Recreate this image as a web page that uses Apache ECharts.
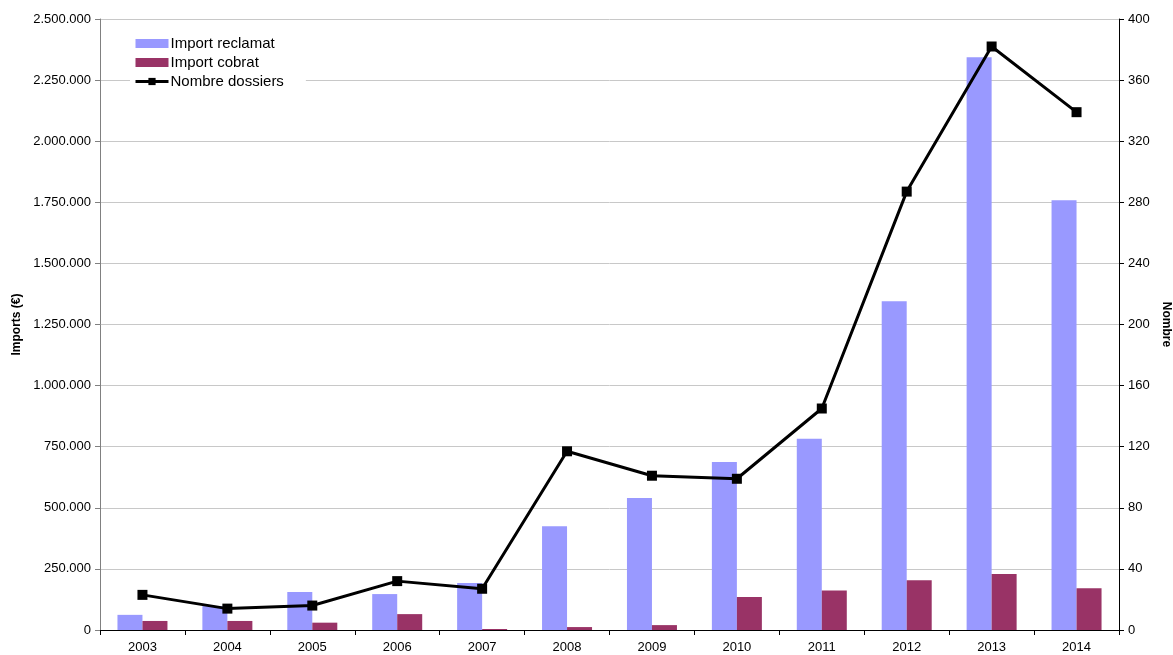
<!DOCTYPE html>
<html>
<head>
<meta charset="utf-8">
<script src="https://cdn.jsdelivr.net/npm/echarts@6/dist/echarts.min.js"></script>
<style>
  html, body { margin: 0; padding: 0; background: #fff; }
  #chart { width: 1173px; height: 655px; }
</style>
</head>
<body>
<div id="chart"></div>
<script>
// dades llegides del gràfic
var anys = ["2003", "2004", "2005", "2006", "2007", "2008", "2009", "2010", "2011", "2012", "2013", "2014"];
var importReclamat = [62000, 98000, 155000, 147000, 192000, 425000, 540000, 687000, 783000, 1345000, 2344000, 1758000];
var importCobrat = [37000, 37000, 30000, 65000, 4000, 12000, 20000, 135000, 162000, 204000, 229000, 171000];
var nombreDossiers = [23, 14, 16, 32, 27, 117, 101, 99, 145, 287, 382, 339];

function fmtMiles(v) {
  return String(v).replace(/\B(?=(\d{3})+(?!\d))/g, ".");
}

var myChart = echarts.init(document.getElementById("chart"));
myChart.setOption({
  animation: false,
  textStyle: { fontFamily: "Liberation Sans, Arial, sans-serif" },
  grid: { left: 100, right: 54, top: 19, bottom: 25, outerBoundsMode: "none", containLabel: false },
  legend: {
    orient: "vertical",
    left: 130,
    top: 34,
    itemWidth: 33,
    itemHeight: 9,
    itemGap: 4,
    padding: [2, 22, 2, 4],
    backgroundColor: "#fff",
    textStyle: { fontSize: 15, color: "#000", padding: [0, 0, 0, -3] },
    data: [
      { name: "Import reclamat", icon: "rect" },
      { name: "Import cobrat", icon: "rect" },
      { name: "Nombre dossiers", lineStyle: { width: 3 } }
    ]
  },
  xAxis: {
    type: "category",
    data: anys,
    axisLine: { lineStyle: { color: "#000", width: 1 } },
    axisTick: { show: true, alignWithLabel: false, length: 5, lineStyle: { color: "#000" } },
    axisLabel: { color: "#000", fontSize: 13, margin: 11 }
  },
  yAxis: [
    {
      type: "value",
      min: 0,
      max: 2500000,
      interval: 250000,
      name: "Imports (€)",
      nameLocation: "middle",
      nameGap: 74,
      nameTextStyle: { fontWeight: "bold", fontSize: 12, color: "#000" },
      axisLine: { show: true, lineStyle: { color: "#808080" } },
      axisTick: { show: true, length: 5, lineStyle: { color: "#808080" } },
      axisLabel: { color: "#000", fontSize: 13, margin: 9, formatter: fmtMiles },
      splitLine: { lineStyle: { color: "#c8c8c8", width: 1 } }
    },
    {
      type: "value",
      min: 0,
      max: 400,
      interval: 40,
      name: "Nombre",
      nameLocation: "middle",
      nameRotate: -90,
      nameGap: 37,
      nameTextStyle: { fontWeight: "bold", fontSize: 12, color: "#000" },
      axisLine: { show: true, lineStyle: { color: "#000" } },
      axisTick: { show: true, length: 5, lineStyle: { color: "#000" } },
      axisLabel: { color: "#000", fontSize: 13, margin: 9 },
      splitLine: { show: false }
    }
  ],
  series: [
    {
      name: "Import reclamat",
      type: "bar",
      data: importReclamat,
      barWidth: 25,
      barGap: "0%",
      itemStyle: { color: "#9999ff" }
    },
    {
      name: "Import cobrat",
      type: "bar",
      data: importCobrat,
      barWidth: 25,
      barGap: "0%",
      itemStyle: { color: "#993366" }
    },
    {
      name: "Nombre dossiers",
      type: "line",
      yAxisIndex: 1,
      data: nombreDossiers,
      symbol: "rect",
      symbolSize: 10,
      lineStyle: { color: "#000", width: 3 },
      itemStyle: { color: "#000" }
    }
  ]
});
</script>
</body>
</html>
